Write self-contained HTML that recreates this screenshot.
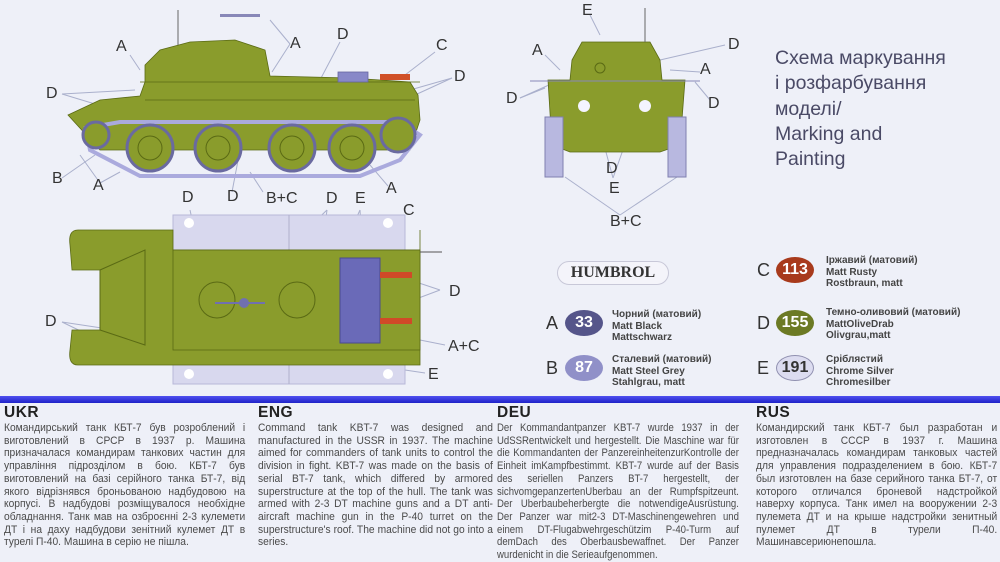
<!DOCTYPE html>
<html><head><meta charset="utf-8">
<style>
html,body{margin:0;padding:0}
body{width:1000px;height:561px;background:#eef0f8;position:relative;overflow:hidden;font-family:"Liberation Sans",sans-serif}
svg{position:absolute;left:0;top:0}
.title{position:absolute;left:775px;top:46px;font-size:19.5px;line-height:25.3px;color:#4a4a66}
.bar{position:absolute;left:0;top:396px;width:1000px;height:7px;background:linear-gradient(#5050f0,#1e22c8)}
.col{position:absolute;top:404px;width:243px;color:#444}
.col h3{margin:0;font-size:15.5px;font-weight:bold;color:#222;line-height:18px;letter-spacing:.5px}
.col p{margin:0;width:268px;transform:scaleX(0.9);transform-origin:0 0;font-size:11.4px;line-height:12.7px;text-align:justify;color:#4a4a4a}
.leg{position:absolute;font-size:10px;line-height:11.5px;color:#444;font-weight:bold}
.L{position:absolute;font-size:18px;color:#333}
.ov{position:absolute;width:38px;height:26px;border-radius:50%;color:#fff;font-weight:bold;font-size:16px;text-align:center;line-height:26px}
</style></head><body>
<svg width="1000" height="561" viewBox="0 0 1000 561">
<g stroke="#aab0cc" stroke-width="1" fill="none">
<line x1="130" y1="55" x2="140" y2="70"/><line x1="290" y1="44" x2="270" y2="20"/><line x1="290" y1="44" x2="272" y2="72"/>
<line x1="340" y1="42" x2="320" y2="80"/><line x1="435" y1="52" x2="405" y2="75"/><line x1="452" y1="78" x2="410" y2="90"/><line x1="452" y1="78" x2="415" y2="95"/>
<line x1="62" y1="94" x2="135" y2="90"/><line x1="62" y1="94" x2="95" y2="104"/>
<line x1="62" y1="178" x2="95" y2="155"/><line x1="100" y1="183" x2="80" y2="155"/><line x1="100" y1="183" x2="120" y2="172"/><line x1="388" y1="186" x2="370" y2="165"/>
<line x1="232" y1="192" x2="240" y2="150"/><line x1="263" y1="192" x2="250" y2="172"/>
<line x1="190" y1="210" x2="210" y2="300"/><line x1="327" y1="210" x2="280" y2="255"/><line x1="327" y1="210" x2="318" y2="280"/>
<line x1="360" y1="210" x2="350" y2="232"/><line x1="360" y1="210" x2="362" y2="240"/><line x1="405" y1="218" x2="395" y2="250"/>
<line x1="440" y1="290" x2="410" y2="280"/><line x1="440" y1="290" x2="400" y2="305"/><line x1="445" y1="345" x2="395" y2="335"/>
<line x1="62" y1="322" x2="115" y2="330"/><line x1="62" y1="322" x2="130" y2="355"/><line x1="425" y1="373" x2="405" y2="370"/>
<line x1="590" y1="15" x2="600" y2="35"/><line x1="545" y1="55" x2="560" y2="70"/><line x1="520" y1="98" x2="560" y2="80"/><line x1="520" y1="98" x2="545" y2="88"/>
<line x1="725" y1="45" x2="660" y2="60"/><line x1="700" y1="72" x2="670" y2="70"/><line x1="710" y1="100" x2="695" y2="82"/>
<line x1="620" y1="215" x2="565" y2="177"/><line x1="620" y1="215" x2="677" y2="177"/><line x1="613" y1="178" x2="600" y2="130"/><line x1="613" y1="178" x2="630" y2="130"/>
</g>
<g stroke="#5a6a14" stroke-width="0.8">
<path d="M68 115 L100 100 L140 96 L145 82 L145 65 L160 50 L190 42 L235 40 L265 50 L270 76 L350 78 L410 82 L418 95 L420 120 L410 150 L100 150 Z" fill="#8a9c2c"/>
<path d="M140 82 L420 82" fill="none"/><path d="M145 100 L415 100" fill="none"/>
<rect x="338" y="72" width="30" height="10" fill="#8888c8" stroke="#6666a0"/>
<rect x="380" y="74" width="30" height="6" fill="#d05028" stroke="none"/>
</g>
<line x1="178" y1="10" x2="178" y2="45" stroke="#666"/>
<rect x="220" y="14" width="40" height="3" fill="#8888b8"/>
<path d="M86 128 L120 122 L400 122 L420 135 L400 160 L360 176 L140 176 L90 150 Z" fill="none" stroke="#aaaadd" stroke-width="4"/>
<g fill="#8a9c2c" stroke="#6a6aa0" stroke-width="3">
<circle cx="96" cy="135" r="13"/><circle cx="150" cy="148" r="23"/><circle cx="218" cy="148" r="23"/><circle cx="292" cy="148" r="23"/><circle cx="352" cy="148" r="23"/><circle cx="398" cy="135" r="17"/>
</g>
<g fill="none" stroke="#5a6a14"><circle cx="150" cy="148" r="12"/><circle cx="218" cy="148" r="12"/><circle cx="292" cy="148" r="12"/><circle cx="352" cy="148" r="12"/></g>
<rect x="173" y="215" width="232" height="36" fill="#d8d8ee" stroke="#b8b8d8"/>
<rect x="173" y="350" width="232" height="34" fill="#d8d8ee" stroke="#b8b8d8"/>
<line x1="289" y1="215" x2="289" y2="384" stroke="#b0b0cc"/>
<g fill="#fff"><circle cx="189" cy="223" r="5"/><circle cx="388" cy="223" r="5"/><circle cx="189" cy="374" r="5"/><circle cx="388" cy="374" r="5"/></g>
<path d="M78 230 L173 230 L173 250 L420 250 L420 230 L420 365 L173 365 L173 365 L78 365 Q68 365 70 350 L72 330 L100 330 L100 270 L72 270 L70 245 Q68 230 78 230 Z" fill="#8a9c2c" stroke="#5a6a14" stroke-width=".8"/>
<rect x="173" y="250" width="247" height="100" fill="#8a9c2c" stroke="#5a6a14" stroke-width=".8"/>
<path d="M100 270 L145 250 L145 345 L100 330 Z" fill="none" stroke="#5a6a14"/>
<circle cx="217" cy="300" r="18" fill="none" stroke="#5a6a14"/><circle cx="297" cy="300" r="18" fill="none" stroke="#5a6a14"/>
<rect x="340" y="258" width="40" height="85" fill="#6a6ab8" stroke="#4a4a90"/>
<rect x="380" y="272" width="32" height="6" fill="#d04a28"/><rect x="380" y="318" width="32" height="6" fill="#d04a28"/>
<line x1="215" y1="303" x2="265" y2="303" stroke="#7070b0" stroke-width="2"/><circle cx="244" cy="303" r="5" fill="#7070b0"/>
<line x1="420" y1="252" x2="442" y2="252" stroke="#555"/>
<path d="M582 42 L650 42 L660 60 L662 80 L685 80 L680 145 L660 152 L570 152 L552 145 L548 80 L570 80 L572 60 Z" fill="#8a9c2c" stroke="#5a6a14" stroke-width=".8"/>
<rect x="545" y="117" width="18" height="60" fill="#b8b8e0" stroke="#8080b0"/>
<rect x="668" y="117" width="18" height="60" fill="#b8b8e0" stroke="#8080b0"/>
<circle cx="584" cy="106" r="6" fill="#f4f4ff"/><circle cx="645" cy="106" r="6" fill="#f4f4ff"/>
<line x1="530" y1="81" x2="700" y2="81" stroke="#8888b8"/>
<line x1="645" y1="8" x2="645" y2="42" stroke="#666"/>
<circle cx="600" cy="68" r="5" fill="none" stroke="#5a6a14"/>
</svg>
<div class="L" style="left:116px;top:38px;font-size:16px">A</div>
<div class="L" style="left:290px;top:35px;font-size:16px">A</div>
<div class="L" style="left:337px;top:26px;font-size:16px">D</div>
<div class="L" style="left:436px;top:37px;font-size:16px">C</div>
<div class="L" style="left:454px;top:68px;font-size:16px">D</div>
<div class="L" style="left:46px;top:85px;font-size:16px">D</div>
<div class="L" style="left:52px;top:170px;font-size:16px">B</div>
<div class="L" style="left:93px;top:177px;font-size:16px">A</div>
<div class="L" style="left:386px;top:180px;font-size:16px">A</div>
<div class="L" style="left:182px;top:189px;font-size:16px">D</div>
<div class="L" style="left:227px;top:188px;font-size:16px">D</div>
<div class="L" style="left:266px;top:190px;font-size:16px">B+C</div>
<div class="L" style="left:326px;top:190px;font-size:16px">D</div>
<div class="L" style="left:355px;top:190px;font-size:16px">E</div>
<div class="L" style="left:403px;top:202px;font-size:16px">C</div>
<div class="L" style="left:449px;top:283px;font-size:16px">D</div>
<div class="L" style="left:448px;top:338px;font-size:16px">A+C</div>
<div class="L" style="left:428px;top:366px;font-size:16px">E</div>
<div class="L" style="left:45px;top:313px;font-size:16px">D</div>
<div class="L" style="left:582px;top:2px;font-size:16px">E</div>
<div class="L" style="left:532px;top:42px;font-size:16px">A</div>
<div class="L" style="left:506px;top:90px;font-size:16px">D</div>
<div class="L" style="left:728px;top:36px;font-size:16px">D</div>
<div class="L" style="left:700px;top:61px;font-size:16px">A</div>
<div class="L" style="left:708px;top:95px;font-size:16px">D</div>
<div class="L" style="left:606px;top:160px;font-size:16px">D</div>
<div class="L" style="left:609px;top:180px;font-size:16px">E</div>
<div class="L" style="left:610px;top:213px;font-size:16px">B+C</div>
<div class="title">Схема маркування<br>і розфарбування<br>моделі/<br>Marking and<br>Painting</div>
<div style="position:absolute;left:557px;top:261px;width:110px;height:22px;border:1px solid #c8c8d8;border-radius:12px;background:#f4f4fa;font-family:'Liberation Serif',serif;font-weight:bold;font-size:16px;line-height:22px;text-align:center;color:#333">HUMBROL</div>
<div class="L" style="left:546px;top:313px">A</div><div class="ov" style="left:565px;top:310px;background:#55558a">33</div>
<div class="leg" style="left:612px;top:309px">Чорний (матовий)<br>Matt Black<br>Mattschwarz</div>
<div class="L" style="left:546px;top:358px">B</div><div class="ov" style="left:565px;top:355px;background:#9090c8">87</div>
<div class="leg" style="left:612px;top:354px">Сталевий (матовий)<br>Matt Steel Grey<br>Stahlgrau, matt</div>
<div class="L" style="left:757px;top:260px">C</div><div class="ov" style="left:776px;top:257px;background:#a83a1c">113</div>
<div class="leg" style="left:826px;top:255px">Іржавий (матовий)<br>Matt Rusty<br>Rostbraun, matt</div>
<div class="L" style="left:757px;top:313px">D</div><div class="ov" style="left:776px;top:310px;background:#6c7a24">155</div>
<div class="leg" style="left:826px;top:307px">Темно-оливовий (матовий)<br>MattOliveDrab<br>Olivgrau,matt</div>
<div class="L" style="left:757px;top:358px">E</div><div class="ov" style="left:776px;top:355px;background:#dcdcf0;color:#333;border:1px solid #9090b0;width:36px;height:24px;line-height:24px">191</div>
<div class="leg" style="left:826px;top:354px">Сріблястий<br>Chrome Silver<br>Chromesilber</div>
<div class="bar"></div>
<div class="col" style="left:4px"><h3>UKR</h3><p>Командирський танк КБТ-7 був розроблений і виготовлений в СРСР в 1937 р. Машина призначалася командирам танкових частин для управління підрозділом в бою. КБТ-7 був виготовлений на базі серійного танка БТ-7, від якого відрізнявся броньованою надбудовою на корпусі. В надбудові розміщувалося необхідне обладнання. Танк мав на озброєнні 2-3 кулемети ДТ і на даху надбудови зенітний кулемет ДТ в турелі П-40. Машина в серію не пішла.</p></div>
<div class="col" style="left:258px"><h3>ENG</h3><p style="width:261px">Command tank KBT-7 was designed and manufactured in the USSR in 1937. The machine aimed for commanders of tank units to control the division in fight. KBT-7 was made on the basis of serial BT-7 tank, which differed by armored superstructure at the top of the hull. The tank was armed with 2-3 DT machine guns and a DT anti-aircraft machine gun in the P-40 turret on the superstructure's roof. The machine did not go into a series.</p></div>
<div class="col" style="left:497px"><h3>DEU</h3><p style="width:288px;transform:scaleX(0.84)">Der Kommandantpanzer KBT-7 wurde 1937 in der UdSSRentwickelt und hergestellt. Die Maschine war für die Kommandanten der PanzereinheitenzurKontrolle der Einheit imKampfbestimmt. KBT-7 wurde auf der Basis des seriellen Panzers BT-7 hergestellt, der sichvomgepanzertenUberbau an der Rumpfspitzeunt. Der Uberbaubeherbergte die notwendigeAusrüstung. Der Panzer war mit2-3 DT-Maschinengewehren und einem DT-Flugabwehrgeschützim P-40-Turm auf demDach des Oberbausbewaffnet. Der Panzer wurdenicht in die Serieaufgenommen.</p></div>
<div class="col" style="left:756px"><h3>RUS</h3><p>Командирский танк КБТ-7 был разработан и изготовлен в СССР в 1937 г. Машина предназначалась командирам танковых частей для управления подразделением в бою. КБТ-7 был изготовлен на базе серийного танка БТ-7, от которого отличался броневой надстройкой наверху корпуса. Танк имел на вооружении 2-3 пулемета ДТ и на крыше надстройки зенитный пулемет ДТ в турели П-40. Машинавсериюнепошла.</p></div>
</body></html>
